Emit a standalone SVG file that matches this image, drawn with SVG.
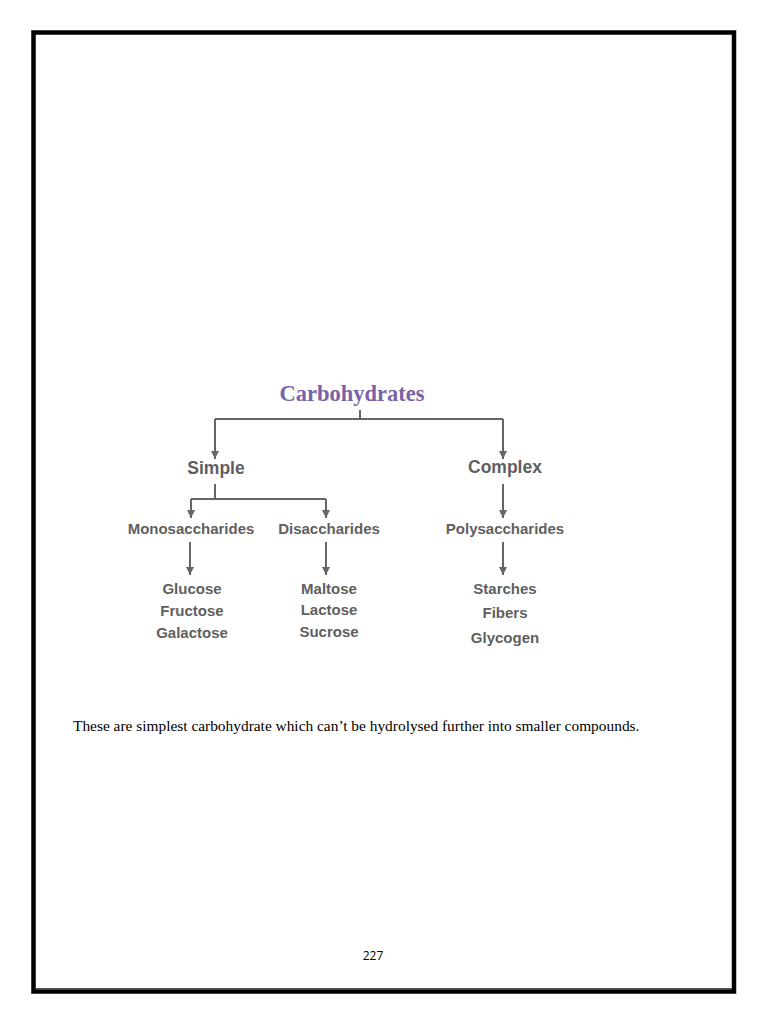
<svg xmlns="http://www.w3.org/2000/svg" width="768" height="1024" viewBox="0 0 768 1024">
<defs>
<marker id="ah" markerWidth="8" markerHeight="8" refX="8" refY="4" orient="auto" markerUnits="userSpaceOnUse">
<path d="M0,0 L8,4 L0,8 Z" fill="#666"/>
</marker>
<style>
.c{stroke:#666;stroke-width:2;fill:none}
.a{stroke:#666;stroke-width:2;fill:none;marker-end:url(#ah)}
.n{font-family:"Liberation Sans",Arial,sans-serif;font-weight:bold;fill:#5f5f5f;text-anchor:middle}
.l{font-size:17.5px}
.m{font-size:15px}
.t{font-family:"Liberation Serif","Times New Roman",serif;font-weight:bold;font-size:22.5px;fill:#7a62a8;text-anchor:middle}
</style>
</defs>
<rect width="768" height="1024" fill="#fff"/>
<g id="frame">
<rect x="33.5" y="32.5" width="700.5" height="959" fill="none" stroke="#000" stroke-width="4.5"/>
<line x1="36" y1="988.5" x2="732" y2="988.5" stroke="#555" stroke-width="1"/>
</g>
<g id="connectors">
<polyline class="c" points="360,410 360,419"/>
<polyline class="c" points="215,419 503,419"/>
<line class="a" x1="215" y1="419" x2="215" y2="459"/>
<line class="a" x1="503" y1="419" x2="503" y2="459"/>
<polyline class="c" points="215,484 215,499"/>
<polyline class="c" points="191,499 326,499"/>
<line class="a" x1="191" y1="499" x2="191" y2="518"/>
<line class="a" x1="326" y1="499" x2="326" y2="518"/>
<line class="a" x1="503" y1="484" x2="503" y2="518"/>
<line class="a" x1="190" y1="542" x2="190" y2="575"/>
<line class="a" x1="326" y1="542" x2="326" y2="575"/>
<line class="a" x1="503" y1="542" x2="503" y2="575"/>
</g>
<g id="carbohydrates"><text class="t" x="352" y="401">Carbohydrates</text></g>
<g id="simple"><text class="n l" x="216" y="474">Simple</text></g>
<g id="complex"><text class="n l" x="505" y="473">Complex</text></g>
<g id="monosaccharides"><text class="n m" x="191" y="534">Monosaccharides</text></g>
<g id="disaccharides"><text class="n m" x="329" y="534">Disaccharides</text></g>
<g id="polysaccharides"><text class="n m" x="505" y="534">Polysaccharides</text></g>
<g id="mono-list">
<text class="n m" x="192" y="594">Glucose</text>
<text class="n m" x="192" y="616">Fructose</text>
<text class="n m" x="192" y="638">Galactose</text>
</g>
<g id="di-list">
<text class="n m" x="329" y="594">Maltose</text>
<text class="n m" x="329" y="615">Lactose</text>
<text class="n m" x="329" y="637">Sucrose</text>
</g>
<g id="poly-list">
<text class="n m" x="505" y="594">Starches</text>
<text class="n m" x="505" y="618">Fibers</text>
<text class="n m" x="505" y="643">Glycogen</text>
</g>
<text x="73" y="731" font-family="'Liberation Serif','Times New Roman',serif" font-size="15.4" fill="#000">These are simplest carbohydrate which can’t be hydrolysed further into smaller compounds.</text>
<text x="373" y="960" font-family="'Open Sans','Liberation Sans',sans-serif" font-size="12" fill="#000" text-anchor="middle">227</text>
</svg>
